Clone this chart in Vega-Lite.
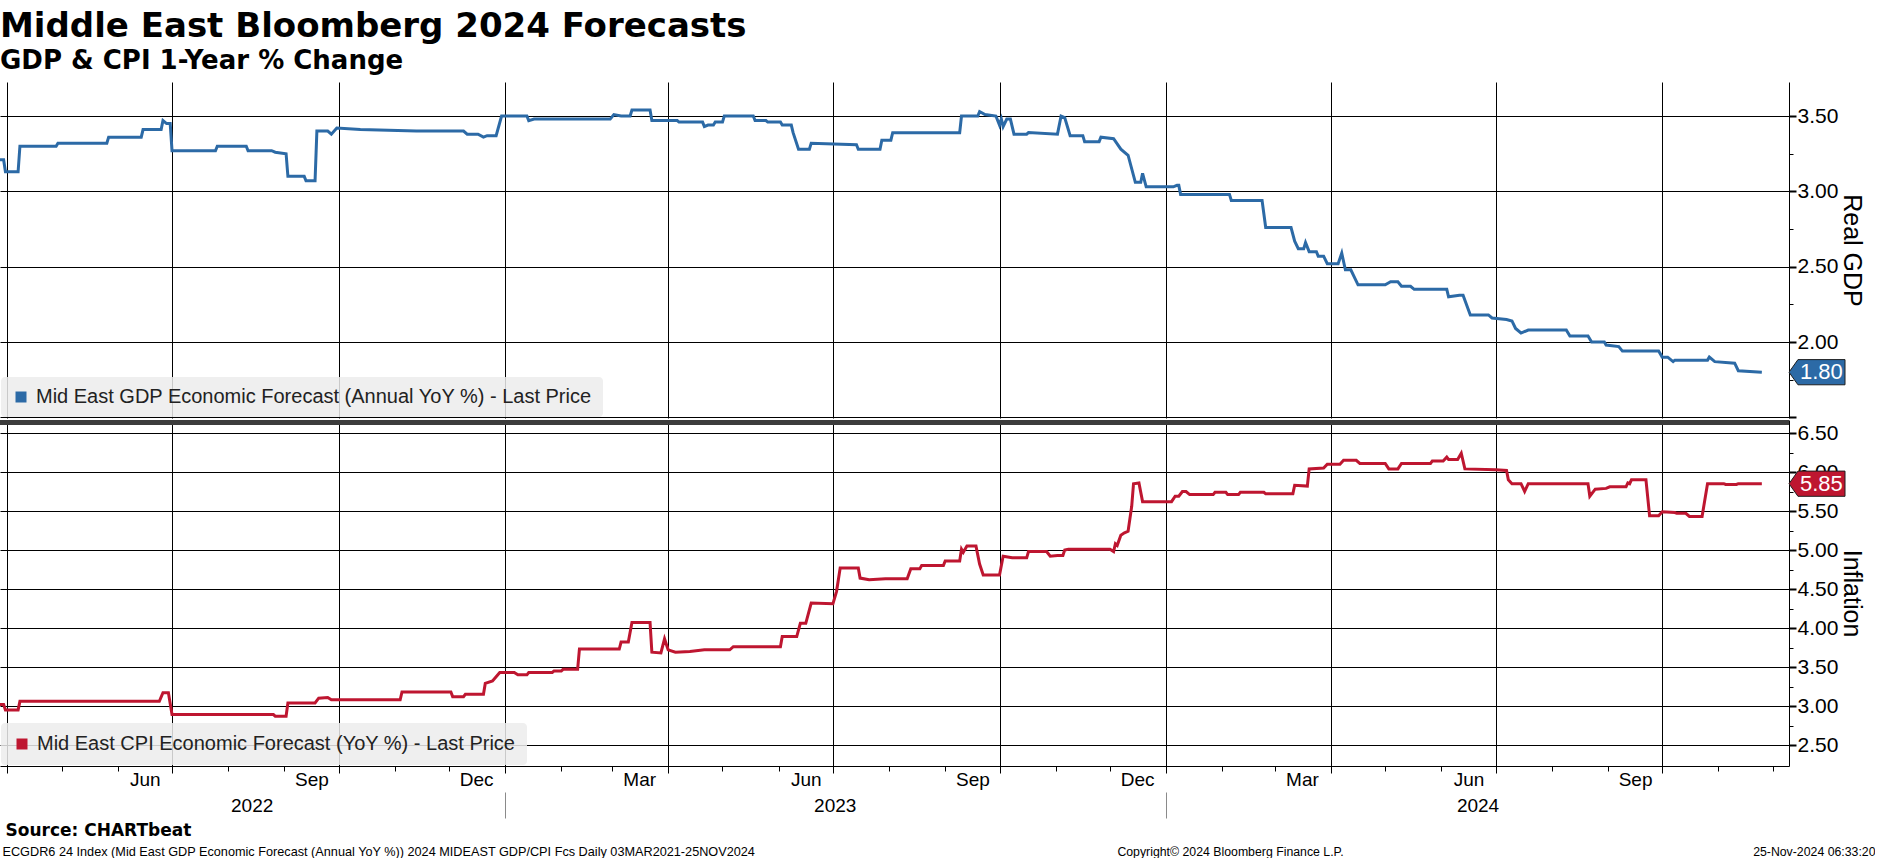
{
  "$schema": "https://vega.github.io/schema/vega-lite/v6.json",
  "background": "white",
  "padding": {"left": 0, "top": 10, "right": 0, "bottom": 0},
  "title": {
    "text": "Middle East Bloomberg 2024 Forecasts",
    "subtitle": "GDP & CPI 1-Year % Change",
    "anchor": "start",
    "font": "DejaVu Sans",
    "fontSize": 34,
    "fontWeight": "bold",
    "color": "#000000",
    "subtitleFont": "DejaVu Sans",
    "subtitleFontSize": 26,
    "subtitleFontWeight": "bold",
    "subtitleColor": "#000000",
    "subtitlePadding": 4,
    "offset": 8
  },
  "datasets": {
    "gdp": [
      {"date": "2022-03-28", "value": 3.21}, {"date": "2022-03-30", "value": 3.21}, {"date": "2022-03-31", "value": 3.13},
      {"date": "2022-04-07", "value": 3.13}, {"date": "2022-04-08", "value": 3.30}, {"date": "2022-04-28", "value": 3.30},
      {"date": "2022-04-29", "value": 3.32}, {"date": "2022-05-26", "value": 3.32}, {"date": "2022-05-27", "value": 3.36},
      {"date": "2022-06-14", "value": 3.36}, {"date": "2022-06-15", "value": 3.41}, {"date": "2022-06-25", "value": 3.41},
      {"date": "2022-06-26", "value": 3.47}, {"date": "2022-06-28", "value": 3.45}, {"date": "2022-06-30", "value": 3.45},
      {"date": "2022-07-01", "value": 3.27}, {"date": "2022-07-25", "value": 3.27}, {"date": "2022-07-26", "value": 3.30},
      {"date": "2022-08-11", "value": 3.30}, {"date": "2022-08-12", "value": 3.27}, {"date": "2022-08-25", "value": 3.27},
      {"date": "2022-08-27", "value": 3.26}, {"date": "2022-09-02", "value": 3.25}, {"date": "2022-09-03", "value": 3.10},
      {"date": "2022-09-12", "value": 3.10}, {"date": "2022-09-13", "value": 3.07}, {"date": "2022-09-18", "value": 3.07},
      {"date": "2022-09-19", "value": 3.40}, {"date": "2022-09-25", "value": 3.40}, {"date": "2022-09-27", "value": 3.38},
      {"date": "2022-09-30", "value": 3.42}, {"date": "2022-10-13", "value": 3.41}, {"date": "2022-11-13", "value": 3.40},
      {"date": "2022-12-09", "value": 3.40}, {"date": "2022-12-11", "value": 3.38}, {"date": "2022-12-17", "value": 3.38},
      {"date": "2022-12-20", "value": 3.36}, {"date": "2022-12-22", "value": 3.37}, {"date": "2022-12-27", "value": 3.37},
      {"date": "2022-12-30", "value": 3.50}, {"date": "2023-01-13", "value": 3.50}, {"date": "2023-01-14", "value": 3.47},
      {"date": "2023-01-17", "value": 3.48}, {"date": "2023-02-28", "value": 3.48}, {"date": "2023-03-02", "value": 3.51},
      {"date": "2023-03-06", "value": 3.50}, {"date": "2023-03-11", "value": 3.50}, {"date": "2023-03-12", "value": 3.54},
      {"date": "2023-03-22", "value": 3.54}, {"date": "2023-03-23", "value": 3.47}, {"date": "2023-04-06", "value": 3.47},
      {"date": "2023-04-07", "value": 3.46}, {"date": "2023-04-20", "value": 3.46}, {"date": "2023-04-21", "value": 3.43},
      {"date": "2023-04-23", "value": 3.44}, {"date": "2023-04-26", "value": 3.44}, {"date": "2023-04-27", "value": 3.46},
      {"date": "2023-05-01", "value": 3.46}, {"date": "2023-05-02", "value": 3.50}, {"date": "2023-05-18", "value": 3.50},
      {"date": "2023-05-19", "value": 3.47}, {"date": "2023-05-25", "value": 3.47}, {"date": "2023-05-26", "value": 3.46},
      {"date": "2023-06-02", "value": 3.46}, {"date": "2023-06-03", "value": 3.44}, {"date": "2023-06-08", "value": 3.44},
      {"date": "2023-06-09", "value": 3.39}, {"date": "2023-06-12", "value": 3.28}, {"date": "2023-06-18", "value": 3.28},
      {"date": "2023-06-19", "value": 3.32}, {"date": "2023-07-14", "value": 3.31}, {"date": "2023-07-15", "value": 3.28},
      {"date": "2023-07-27", "value": 3.28}, {"date": "2023-07-28", "value": 3.34}, {"date": "2023-08-02", "value": 3.34},
      {"date": "2023-08-03", "value": 3.39}, {"date": "2023-09-09", "value": 3.39}, {"date": "2023-09-10", "value": 3.50},
      {"date": "2023-09-19", "value": 3.50}, {"date": "2023-09-20", "value": 3.53}, {"date": "2023-09-23", "value": 3.51},
      {"date": "2023-09-29", "value": 3.50}, {"date": "2023-10-01", "value": 3.44}, {"date": "2023-10-02", "value": 3.48},
      {"date": "2023-10-03", "value": 3.43}, {"date": "2023-10-05", "value": 3.48}, {"date": "2023-10-07", "value": 3.48},
      {"date": "2023-10-09", "value": 3.38}, {"date": "2023-10-16", "value": 3.38}, {"date": "2023-10-17", "value": 3.39},
      {"date": "2023-11-02", "value": 3.38}, {"date": "2023-11-04", "value": 3.50}, {"date": "2023-11-06", "value": 3.49},
      {"date": "2023-11-09", "value": 3.37}, {"date": "2023-11-16", "value": 3.37}, {"date": "2023-11-17", "value": 3.33},
      {"date": "2023-11-25", "value": 3.33}, {"date": "2023-11-26", "value": 3.36}, {"date": "2023-12-03", "value": 3.35},
      {"date": "2023-12-07", "value": 3.28}, {"date": "2023-12-11", "value": 3.24}, {"date": "2023-12-15", "value": 3.06},
      {"date": "2023-12-18", "value": 3.06}, {"date": "2023-12-19", "value": 3.12}, {"date": "2023-12-21", "value": 3.03},
      {"date": "2024-01-05", "value": 3.03}, {"date": "2024-01-07", "value": 3.04}, {"date": "2024-01-08", "value": 3.04},
      {"date": "2024-01-09", "value": 2.98}, {"date": "2024-02-05", "value": 2.98}, {"date": "2024-02-06", "value": 2.94},
      {"date": "2024-02-23", "value": 2.94}, {"date": "2024-02-25", "value": 2.76}, {"date": "2024-03-10", "value": 2.76},
      {"date": "2024-03-12", "value": 2.67}, {"date": "2024-03-14", "value": 2.62}, {"date": "2024-03-17", "value": 2.62},
      {"date": "2024-03-18", "value": 2.66}, {"date": "2024-03-20", "value": 2.60}, {"date": "2024-03-24", "value": 2.60},
      {"date": "2024-03-25", "value": 2.57}, {"date": "2024-03-28", "value": 2.57}, {"date": "2024-03-30", "value": 2.52},
      {"date": "2024-04-05", "value": 2.52}, {"date": "2024-04-07", "value": 2.59}, {"date": "2024-04-09", "value": 2.48},
      {"date": "2024-04-12", "value": 2.48}, {"date": "2024-04-16", "value": 2.38}, {"date": "2024-05-01", "value": 2.38},
      {"date": "2024-05-04", "value": 2.40}, {"date": "2024-05-08", "value": 2.40}, {"date": "2024-05-10", "value": 2.37},
      {"date": "2024-05-15", "value": 2.37}, {"date": "2024-05-17", "value": 2.35}, {"date": "2024-06-04", "value": 2.35},
      {"date": "2024-06-05", "value": 2.30}, {"date": "2024-06-11", "value": 2.31}, {"date": "2024-06-13", "value": 2.31},
      {"date": "2024-06-17", "value": 2.18}, {"date": "2024-06-27", "value": 2.18}, {"date": "2024-06-29", "value": 2.16},
      {"date": "2024-07-07", "value": 2.15}, {"date": "2024-07-10", "value": 2.14}, {"date": "2024-07-12", "value": 2.09},
      {"date": "2024-07-15", "value": 2.06}, {"date": "2024-07-19", "value": 2.08}, {"date": "2024-08-09", "value": 2.08},
      {"date": "2024-08-11", "value": 2.04}, {"date": "2024-08-21", "value": 2.04}, {"date": "2024-08-23", "value": 2.00},
      {"date": "2024-08-30", "value": 2.00}, {"date": "2024-08-31", "value": 1.98}, {"date": "2024-09-07", "value": 1.97},
      {"date": "2024-09-09", "value": 1.94}, {"date": "2024-09-29", "value": 1.94}, {"date": "2024-10-01", "value": 1.90},
      {"date": "2024-10-04", "value": 1.90}, {"date": "2024-10-07", "value": 1.87}, {"date": "2024-10-08", "value": 1.88},
      {"date": "2024-10-26", "value": 1.88}, {"date": "2024-10-27", "value": 1.90}, {"date": "2024-10-30", "value": 1.87},
      {"date": "2024-11-10", "value": 1.86}, {"date": "2024-11-12", "value": 1.81}, {"date": "2024-11-25", "value": 1.80}
    ],
    "cpi": [
      {"date": "2022-03-28", "value": 3.02}, {"date": "2022-03-30", "value": 3.02}, {"date": "2022-03-31", "value": 2.95},
      {"date": "2022-04-07", "value": 2.95}, {"date": "2022-04-08", "value": 3.06}, {"date": "2022-06-24", "value": 3.06},
      {"date": "2022-06-26", "value": 3.17}, {"date": "2022-06-29", "value": 3.17}, {"date": "2022-07-01", "value": 2.89},
      {"date": "2022-08-26", "value": 2.89}, {"date": "2022-08-27", "value": 2.87}, {"date": "2022-09-02", "value": 2.87},
      {"date": "2022-09-03", "value": 3.04}, {"date": "2022-09-18", "value": 3.04}, {"date": "2022-09-20", "value": 3.10},
      {"date": "2022-09-25", "value": 3.11}, {"date": "2022-09-27", "value": 3.08}, {"date": "2022-11-04", "value": 3.08},
      {"date": "2022-11-05", "value": 3.18}, {"date": "2022-12-02", "value": 3.18}, {"date": "2022-12-03", "value": 3.12},
      {"date": "2022-12-09", "value": 3.12}, {"date": "2022-12-10", "value": 3.15}, {"date": "2022-12-20", "value": 3.15},
      {"date": "2022-12-21", "value": 3.29}, {"date": "2022-12-25", "value": 3.32}, {"date": "2022-12-29", "value": 3.43},
      {"date": "2023-01-06", "value": 3.43}, {"date": "2023-01-08", "value": 3.40}, {"date": "2023-01-13", "value": 3.40},
      {"date": "2023-01-14", "value": 3.43}, {"date": "2023-01-27", "value": 3.43}, {"date": "2023-01-28", "value": 3.45},
      {"date": "2023-02-01", "value": 3.45}, {"date": "2023-02-02", "value": 3.47}, {"date": "2023-02-10", "value": 3.47},
      {"date": "2023-02-11", "value": 3.73}, {"date": "2023-03-05", "value": 3.73}, {"date": "2023-03-06", "value": 3.82},
      {"date": "2023-03-10", "value": 3.82}, {"date": "2023-03-12", "value": 4.07}, {"date": "2023-03-22", "value": 4.07},
      {"date": "2023-03-23", "value": 3.69}, {"date": "2023-03-28", "value": 3.68}, {"date": "2023-03-30", "value": 3.86},
      {"date": "2023-04-01", "value": 3.72}, {"date": "2023-04-05", "value": 3.69}, {"date": "2023-04-13", "value": 3.70},
      {"date": "2023-04-21", "value": 3.72}, {"date": "2023-05-05", "value": 3.72}, {"date": "2023-05-07", "value": 3.76},
      {"date": "2023-06-02", "value": 3.76}, {"date": "2023-06-03", "value": 3.89}, {"date": "2023-06-11", "value": 3.89},
      {"date": "2023-06-13", "value": 4.06}, {"date": "2023-06-16", "value": 4.06}, {"date": "2023-06-19", "value": 4.32},
      {"date": "2023-07-01", "value": 4.31}, {"date": "2023-07-03", "value": 4.47}, {"date": "2023-07-05", "value": 4.77},
      {"date": "2023-07-15", "value": 4.77}, {"date": "2023-07-16", "value": 4.64}, {"date": "2023-07-21", "value": 4.62},
      {"date": "2023-07-30", "value": 4.63}, {"date": "2023-08-11", "value": 4.63}, {"date": "2023-08-13", "value": 4.76},
      {"date": "2023-08-18", "value": 4.76}, {"date": "2023-08-19", "value": 4.80}, {"date": "2023-08-31", "value": 4.80},
      {"date": "2023-09-01", "value": 4.86}, {"date": "2023-09-09", "value": 4.86}, {"date": "2023-09-10", "value": 5.01},
      {"date": "2023-09-11", "value": 4.97}, {"date": "2023-09-13", "value": 5.05}, {"date": "2023-09-18", "value": 5.05},
      {"date": "2023-09-20", "value": 4.82}, {"date": "2023-09-22", "value": 4.68}, {"date": "2023-10-01", "value": 4.68},
      {"date": "2023-10-03", "value": 4.92}, {"date": "2023-10-08", "value": 4.90}, {"date": "2023-10-16", "value": 4.90},
      {"date": "2023-10-17", "value": 4.98}, {"date": "2023-10-27", "value": 4.98}, {"date": "2023-10-29", "value": 4.92},
      {"date": "2023-11-02", "value": 4.93}, {"date": "2023-11-05", "value": 4.93}, {"date": "2023-11-06", "value": 5.00},
      {"date": "2023-11-08", "value": 5.01}, {"date": "2023-12-01", "value": 5.01}, {"date": "2023-12-03", "value": 4.98},
      {"date": "2023-12-04", "value": 5.08}, {"date": "2023-12-05", "value": 5.06}, {"date": "2023-12-07", "value": 5.19},
      {"date": "2023-12-09", "value": 5.22}, {"date": "2023-12-11", "value": 5.24}, {"date": "2023-12-13", "value": 5.56},
      {"date": "2023-12-14", "value": 5.85}, {"date": "2023-12-17", "value": 5.86}, {"date": "2023-12-19", "value": 5.62},
      {"date": "2024-01-04", "value": 5.62}, {"date": "2024-01-06", "value": 5.69}, {"date": "2024-01-08", "value": 5.69},
      {"date": "2024-01-10", "value": 5.75}, {"date": "2024-01-12", "value": 5.75}, {"date": "2024-01-14", "value": 5.71},
      {"date": "2024-01-27", "value": 5.71}, {"date": "2024-01-28", "value": 5.74}, {"date": "2024-02-03", "value": 5.74},
      {"date": "2024-02-04", "value": 5.71}, {"date": "2024-02-10", "value": 5.71}, {"date": "2024-02-11", "value": 5.74},
      {"date": "2024-02-24", "value": 5.74}, {"date": "2024-02-25", "value": 5.72}, {"date": "2024-03-11", "value": 5.72},
      {"date": "2024-03-12", "value": 5.83}, {"date": "2024-03-19", "value": 5.82}, {"date": "2024-03-20", "value": 6.04},
      {"date": "2024-03-28", "value": 6.05}, {"date": "2024-03-30", "value": 6.10}, {"date": "2024-04-06", "value": 6.10},
      {"date": "2024-04-08", "value": 6.15}, {"date": "2024-04-15", "value": 6.15}, {"date": "2024-04-17", "value": 6.11},
      {"date": "2024-05-01", "value": 6.11}, {"date": "2024-05-03", "value": 6.04}, {"date": "2024-05-08", "value": 6.04},
      {"date": "2024-05-10", "value": 6.11}, {"date": "2024-05-26", "value": 6.11}, {"date": "2024-05-27", "value": 6.14},
      {"date": "2024-06-02", "value": 6.14}, {"date": "2024-06-04", "value": 6.19}, {"date": "2024-06-05", "value": 6.16},
      {"date": "2024-06-10", "value": 6.16}, {"date": "2024-06-12", "value": 6.24}, {"date": "2024-06-14", "value": 6.04},
      {"date": "2024-07-01", "value": 6.03}, {"date": "2024-07-07", "value": 6.02}, {"date": "2024-07-08", "value": 5.90},
      {"date": "2024-07-10", "value": 5.85}, {"date": "2024-07-15", "value": 5.85}, {"date": "2024-07-17", "value": 5.75},
      {"date": "2024-07-19", "value": 5.85}, {"date": "2024-08-21", "value": 5.85}, {"date": "2024-08-22", "value": 5.69},
      {"date": "2024-08-25", "value": 5.78}, {"date": "2024-08-31", "value": 5.79}, {"date": "2024-09-02", "value": 5.81},
      {"date": "2024-09-11", "value": 5.81}, {"date": "2024-09-12", "value": 5.86}, {"date": "2024-09-13", "value": 5.85},
      {"date": "2024-09-14", "value": 5.90}, {"date": "2024-09-22", "value": 5.90}, {"date": "2024-09-24", "value": 5.44},
      {"date": "2024-09-29", "value": 5.44}, {"date": "2024-10-01", "value": 5.49}, {"date": "2024-10-08", "value": 5.48},
      {"date": "2024-10-09", "value": 5.47}, {"date": "2024-10-14", "value": 5.47}, {"date": "2024-10-16", "value": 5.43},
      {"date": "2024-10-23", "value": 5.43}, {"date": "2024-10-26", "value": 5.85}, {"date": "2024-11-04", "value": 5.85},
      {"date": "2024-11-05", "value": 5.84}, {"date": "2024-11-11", "value": 5.84}, {"date": "2024-11-12", "value": 5.85},
      {"date": "2024-11-25", "value": 5.85}
    ],
    "gdpLast": [{"value": 1.80}],
    "cpiLast": [{"value": 5.85}]
  },
  "bounds": "flush",
  "spacing": 2,
  "resolve": {"scale": {"color": "independent"}, "legend": {"color": "independent"}},
  "vconcat": [
    {
      "width": 1789,
      "height": 336,
      "resolve": {"axis": {"x": "independent", "y": "independent"}},
      "layer": [
        {
          "data": {"name": "gdp"},
          "mark": {"type": "line", "strokeWidth": 3, "clip": true},
          "encoding": {
            "x": {
              "field": "date", "type": "temporal",
              "scale": {"type": "utc", "domain": [{"year": 2022, "month": 3, "date": 28, "utc": true}, {"year": 2024, "month": 12, "date": 10, "utc": true}]},
              "axis": {"orient": "bottom", "tickCount": {"interval": "month", "step": 3}, "grid": true, "labels": false, "ticks": false, "domain": false, "title": null}
            },
            "y": {
              "field": "value", "type": "quantitative",
              "scale": {"domain": [1.496, 3.726], "nice": false, "zero": false},
              "axis": {
                "orient": "right", "values": [1.5, 2, 2.5, 3, 3.5],
                "labelExpr": "datum.value < 1.75 ? '' : format(datum.value, '.2f')",
                "grid": true, "tickSize": 7, "tickWidth": 2, "labelPadding": 1, "labelFontSize": 21,
                "title": "Real GDP", "titleFontSize": 25, "titlePadding": 1
              }
            },
            "color": {
              "datum": "Mid East GDP Economic Forecast (Annual YoY %) - Last Price",
              "type": "nominal",
              "scale": {"range": ["#2c6aa6"]},
              "legend": {
                "title": null, "orient": "bottom-left", "offset": 1,
                "fillColor": "rgba(236,236,236,0.85)", "padding": 10, "cornerRadius": 4,
                "symbolType": "square", "symbolSize": 121, "symbolFillColor": "#2c6aa6", "symbolStrokeWidth": 0,
                "labelFontSize": 20, "labelLimit": 1000, "labelOffset": 5, "labelColor": "#222222"
              }
            }
          }
        },
        {
          "data": {"name": "gdpLast"},
          "mark": {"type": "point", "shape": "M0,0L0.32,-0.45L2,-0.45L2,0.45L0.32,0.45Z", "size": 3136, "filled": true, "fill": "#2c6aa6", "stroke": "#1e1e1e", "strokeWidth": 1, "opacity": 1},
          "encoding": {
            "x": {"datum": {"year": 2024, "month": 12, "date": 10, "utc": true}, "type": "temporal", "axis": null},
            "y": {
              "field": "value", "type": "quantitative",
              "scale": {"domain": [1.496, 3.726], "nice": false, "zero": false},
              "axis": {"orient": "right", "values": [1.75, 2.25, 2.75, 3.25], "labels": false, "grid": false, "domain": false, "tickSize": 4, "title": null}
            }
          }
        },
        {
          "data": {"name": "gdpLast"},
          "mark": {"type": "text", "align": "left", "baseline": "middle", "dx": 11, "color": "white", "fontSize": 22, "font": "Liberation Sans"},
          "encoding": {
            "x": {"datum": {"year": 2024, "month": 12, "date": 10, "utc": true}, "type": "temporal", "axis": null},
            "y": {"field": "value", "type": "quantitative", "scale": {"domain": [1.496, 3.726], "nice": false, "zero": false}, "axis": null},
            "text": {"field": "value", "type": "quantitative", "format": ".2f"}
          }
        }
      ]
    },
    {
      "width": 1789,
      "height": 346,
      "resolve": {"axis": {"x": "independent", "y": "independent"}},
      "layer": [
        {
          "data": {"name": "cpi"},
          "mark": {"type": "line", "strokeWidth": 3, "clip": true},
          "encoding": {
            "x": {
              "field": "date", "type": "temporal",
              "scale": {"type": "utc", "domain": [{"year": 2022, "month": 3, "date": 28, "utc": true}, {"year": 2024, "month": 12, "date": 10, "utc": true}]},
              "axis": {"orient": "bottom", "tickCount": {"interval": "month", "step": 3}, "grid": true, "labels": false, "ticks": true, "tickSize": 7, "domain": true, "title": null}
            },
            "y": {
              "field": "value", "type": "quantitative",
              "scale": {"domain": [2.2308, 6.6667], "nice": false, "zero": false},
              "axis": {
                "orient": "right", "values": [2.5, 3, 3.5, 4, 4.5, 5, 5.5, 6, 6.5], "format": ".2f",
                "grid": true, "tickSize": 7, "tickWidth": 2, "labelPadding": 1, "labelFontSize": 21,
                "title": "Inflation", "titleFontSize": 25, "titlePadding": 1
              }
            },
            "color": {
              "datum": "Mid East CPI Economic Forecast (YoY %) - Last Price",
              "type": "nominal",
              "scale": {"range": ["#be1630"]},
              "legend": {
                "title": null, "orient": "bottom-left", "offset": 1,
                "fillColor": "rgba(236,236,236,0.85)", "padding": 11, "cornerRadius": 4,
                "symbolType": "square", "symbolSize": 121, "symbolFillColor": "#be1630", "symbolStrokeWidth": 0,
                "labelFontSize": 20, "labelLimit": 1000, "labelOffset": 5, "labelColor": "#222222"
              }
            }
          }
        },
        {
          "data": {"name": "cpiLast"},
          "mark": {"type": "rect", "color": "#3c3c3c"},
          "encoding": {
            "y": {"datum": 6.6667, "type": "quantitative", "scale": {"domain": [2.2308, 6.6667], "nice": false, "zero": false}, "axis": null},
            "y2": {"datum": 6.6026}
          }
        },
        {
          "data": {"name": "cpiLast"},
          "mark": {"type": "point", "shape": "M0,0L0.32,-0.45L2,-0.45L2,0.45L0.32,0.45Z", "size": 3136, "filled": true, "fill": "#be1630", "stroke": "#1e1e1e", "strokeWidth": 1, "opacity": 1},
          "encoding": {
            "x": {
              "datum": {"year": 2024, "month": 12, "date": 10, "utc": true}, "type": "temporal",
              "axis": {"orient": "bottom", "tickCount": {"interval": "month", "step": 1}, "grid": false, "labels": false, "domain": false, "tickSize": 5, "title": null}
            },
            "y": {
              "field": "value", "type": "quantitative",
              "scale": {"domain": [2.2308, 6.6667], "nice": false, "zero": false},
              "axis": {"orient": "right", "values": [2.75, 3.25, 3.75, 4.25, 4.75, 5.25, 5.75, 6.25], "labels": false, "grid": false, "domain": false, "tickSize": 4, "title": null}
            }
          }
        },
        {
          "data": {"name": "cpiLast"},
          "mark": {"type": "text", "align": "left", "baseline": "middle", "dx": 11, "color": "white", "fontSize": 22, "font": "Liberation Sans"},
          "encoding": {
            "x": {
              "datum": {"year": 2024, "month": 12, "date": 10, "utc": true}, "type": "temporal",
              "axis": {
                "orient": "bottom",
                "values": [
                  {"year": 2022, "month": 6, "date": 16, "utc": true}, {"year": 2022, "month": 9, "date": 16, "utc": true},
                  {"year": 2022, "month": 12, "date": 16, "utc": true}, {"year": 2023, "month": 3, "date": 16, "utc": true},
                  {"year": 2023, "month": 6, "date": 16, "utc": true}, {"year": 2023, "month": 9, "date": 16, "utc": true},
                  {"year": 2023, "month": 12, "date": 16, "utc": true}, {"year": 2024, "month": 3, "date": 16, "utc": true},
                  {"year": 2024, "month": 6, "date": 16, "utc": true}, {"year": 2024, "month": 9, "date": 16, "utc": true}
                ],
                "format": "%b", "grid": false, "ticks": false, "domain": false, "labelPadding": 4, "labelFontSize": 19, "labelFlush": false,
                "title": "Source: CHARTbeat", "titleX": 5, "titleY": 64, "titleAlign": "left", "titleBaseline": "middle",
                "titleFont": "DejaVu Sans", "titleFontWeight": "bold", "titleFontSize": 17
              }
            },
            "y": {"field": "value", "type": "quantitative", "scale": {"domain": [2.2308, 6.6667], "nice": false, "zero": false}, "axis": null},
            "text": {"field": "value", "type": "quantitative", "format": ".2f"}
          }
        },
        {
          "data": {"name": "cpiLast"},
          "mark": {"type": "text", "text": ""},
          "encoding": {
            "x": {
              "datum": {"year": 2024, "month": 12, "date": 10, "utc": true}, "type": "temporal",
              "axis": {
                "orient": "bottom",
                "values": [{"year": 2022, "month": 8, "date": 14, "utc": true}, {"year": 2023, "month": 7, "date": 2, "utc": true}, {"year": 2024, "month": 6, "date": 21, "utc": true}],
                "format": "%Y", "grid": false, "ticks": false, "domain": false, "labelPadding": 30, "labelFontSize": 19, "labelFlush": false,
                "title": "ECGDR6 24 Index (Mid East GDP Economic Forecast (Annual YoY %)) 2024 MIDEAST GDP/CPI Fcs  Daily 03MAR2021-25NOV2024",
                "titleX": 2, "titleY": 85, "titleAlign": "left", "titleBaseline": "middle", "titleFontSize": 12.7
              }
            },
            "y": {"field": "value", "type": "quantitative", "scale": {"domain": [2.2308, 6.6667], "nice": false, "zero": false}, "axis": null}
          }
        },
        {
          "data": {"name": "cpiLast"},
          "mark": {"type": "text", "text": ""},
          "encoding": {
            "x": {
              "datum": {"year": 2024, "month": 12, "date": 10, "utc": true}, "type": "temporal",
              "axis": {
                "orient": "bottom",
                "values": [{"year": 2023, "month": 1, "date": 1, "utc": true}, {"year": 2024, "month": 1, "date": 1, "utc": true}],
                "grid": false, "labels": false, "domain": false, "tickSize": 52, "tickColor": "#8a8a8a", "tickWidth": 1, "tickDash": [0, 26, 26, 100],
                "title": "Copyright\u00a9 2024 Bloomberg Finance L.P.",
                "titleX": 1230, "titleY": 85, "titleAlign": "center", "titleBaseline": "middle", "titleFontSize": 12.3
              }
            },
            "y": {"field": "value", "type": "quantitative", "scale": {"domain": [2.2308, 6.6667], "nice": false, "zero": false}, "axis": null}
          }
        },
        {
          "data": {"name": "cpiLast"},
          "mark": {"type": "text", "text": ""},
          "encoding": {
            "x": {
              "datum": {"year": 2024, "month": 12, "date": 10, "utc": true}, "type": "temporal",
              "axis": {
                "orient": "bottom",
                "values": [{"year": 2024, "month": 12, "date": 10, "utc": true}], "grid": false, "labels": false, "domain": false, "ticks": false,
                "title": "25-Nov-2024 06:33:20",
                "titleX": 1875, "titleY": 85, "titleAlign": "right", "titleBaseline": "middle", "titleFontSize": 12.3
              }
            },
            "y": {"field": "value", "type": "quantitative", "scale": {"domain": [2.2308, 6.6667], "nice": false, "zero": false}, "axis": null}
          }
        }
      ]
    }
  ],
  "config": {
    "font": "Liberation Sans",
    "view": {"stroke": null},
    "axis": {
      "labelFont": "Liberation Sans",
      "titleFont": "Liberation Sans",
      "labelColor": "#000000",
      "titleColor": "#000000",
      "titleFontWeight": "normal",
      "tickColor": "#000000",
      "domainColor": "#000000",
      "gridColor": "#000000",
      "gridOpacity": 1,
      "gridWidth": 1
    },
    "legend": {"labelFont": "Liberation Sans"}
  }
}
